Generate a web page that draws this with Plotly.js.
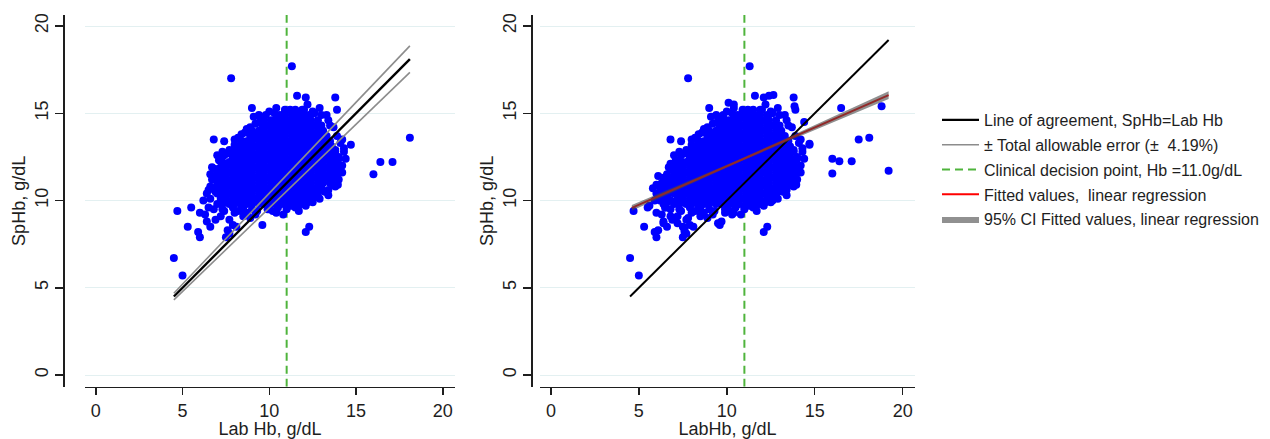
<!DOCTYPE html>
<html>
<head>
<meta charset="utf-8">
<script src="https://cdn.plot.ly/plotly-3.0.1.min.js"></script>
<style>
html, body { margin: 0; padding: 0; background: #ffffff; }
#chart { width: 1270px; height: 439px; }
</style>
</head>
<body>
<div id="chart"></div>
<script>
// ---------------- data ----------------
// Dense core of the scatter, shared by both panels: one row per SpHb level
const coreRowY = [9.8, 10.1, 10.4, 10.7, 11.0, 11.3, 11.6, 11.9, 12.2, 12.5, 12.8, 13.1, 13.4, 13.7, 14.0, 14.3, 14.6, 14.9];
const coreRowX = [
  [7.3, 7.7, 8.0, 8.4, 8.7, 9.0, 9.4, 9.7, 10.1, 10.4, 10.7, 11.1, 11.4, 11.8],
  [7.2, 7.5, 7.9, 8.2, 8.5, 8.9, 9.2, 9.6, 9.9, 10.2, 10.6, 10.9, 11.3, 11.6, 11.9, 12.3],
  [7.0, 7.3, 7.7, 8.0, 8.4, 8.7, 9.0, 9.4, 9.7, 10.1, 10.4, 10.7, 11.1, 11.4, 11.8, 12.1, 12.4, 12.8],
  [6.8, 7.2, 7.5, 7.9, 8.2, 8.5, 8.9, 9.2, 9.6, 9.9, 10.2, 10.6, 10.9, 11.3, 11.6, 11.9, 12.3, 12.6, 13.0],
  [7.0, 7.3, 7.7, 8.0, 8.4, 8.7, 9.0, 9.4, 9.7, 10.1, 10.4, 10.7, 11.1, 11.4, 11.8, 12.1, 12.4, 12.8, 13.1, 13.5],
  [6.8, 7.2, 7.5, 7.9, 8.2, 8.5, 8.9, 9.2, 9.6, 9.9, 10.2, 10.6, 10.9, 11.3, 11.6, 11.9, 12.3, 12.6, 13.0, 13.3, 13.6],
  [7.0, 7.3, 7.7, 8.0, 8.4, 8.7, 9.0, 9.4, 9.7, 10.1, 10.4, 10.7, 11.1, 11.4, 11.8, 12.1, 12.4, 12.8, 13.1, 13.5, 13.8],
  [7.2, 7.5, 7.9, 8.2, 8.5, 8.9, 9.2, 9.6, 9.9, 10.2, 10.6, 10.9, 11.3, 11.6, 11.9, 12.3, 12.6, 13.0, 13.3, 13.6, 14.0],
  [7.3, 7.7, 8.0, 8.4, 8.7, 9.0, 9.4, 9.7, 10.1, 10.4, 10.7, 11.1, 11.4, 11.8, 12.1, 12.4, 12.8, 13.1, 13.5, 13.8],
  [7.9, 8.2, 8.5, 8.9, 9.2, 9.6, 9.9, 10.2, 10.6, 10.9, 11.3, 11.6, 11.9, 12.3, 12.6, 13.0, 13.3, 13.6, 14.0],
  [8.0, 8.4, 8.7, 9.0, 9.4, 9.7, 10.1, 10.4, 10.7, 11.1, 11.4, 11.8, 12.1, 12.4, 12.8, 13.1, 13.5, 13.8],
  [8.2, 8.5, 8.9, 9.2, 9.6, 9.9, 10.2, 10.6, 10.9, 11.3, 11.6, 11.9, 12.3, 12.6, 13.0, 13.3, 13.6],
  [8.4, 8.7, 9.0, 9.4, 9.7, 10.1, 10.4, 10.7, 11.1, 11.4, 11.8, 12.1, 12.4, 12.8, 13.1, 13.5],
  [8.9, 9.2, 9.6, 9.9, 10.2, 10.6, 10.9, 11.3, 11.6, 11.9, 12.3, 12.6, 13.0, 13.3],
  [9.0, 9.4, 9.7, 10.1, 10.4, 10.7, 11.1, 11.4, 11.8, 12.1, 12.4, 12.8, 13.1],
  [9.6, 9.9, 10.2, 10.6, 10.9, 11.3, 11.6, 11.9, 12.3, 12.6, 13.0],
  [9.7, 10.1, 10.4, 10.7, 11.1, 11.4, 11.8, 12.1, 12.4, 12.8],
  [10.6, 10.9, 11.3, 11.6, 11.9, 12.3]
];

// Scattered points around the core, shared by both panels (Lab Hb, SpHb)
const edgeX = [4.7, 5.5, 6.0, 5.3, 5.9, 6.0, 4.5, 5.0,
  6.2, 6.4, 6.6, 6.9, 7.2, 7.7, 7.9, 7.6, 8.1, 8.5, 7.5, 7.7,
  6.5, 6.8, 7.0, 6.4, 6.6, 6.7, 6.9, 7.1, 7.3, 6.8, 7.4, 6.3, 7.3, 8.2, 8.7, 9.0, 9.6, 10.8,
  12.1, 12.3, 11.5, 12.2, 12.5, 13.2, 13.7, 13.95, 13.5, 14.0, 14.2, 14.0, 14.3, 14.7, 14.1,
  13.9, 13.7, 13.4, 13.0, 13.9, 13.8, 12.5, 12.1, 12.2, 11.6, 11.9, 11.3, 10.9, 10.3, 9.8,
  9.5, 9.0, 8.9, 8.6, 8.2, 7.8, 9.1, 8.0, 7.6, 6.9, 7.0, 8.9, 9.3, 10.2, 10.5, 11.3, 11.8,
  12.8, 13.4, 13.8, 13.9, 13.8, 13.9, 8.4, 7.9, 10.0, 11.0,
  7.4, 8.0, 8.5, 9.2, 9.9, 10.4, 11.0, 11.7, 12.1, 12.6,
  9.2, 9.4, 10.0, 10.4, 11.2, 12.6, 12.9, 13.3, 13.5, 8.7, 8.4, 8.0, 7.7, 7.4,
  14.2, 14.3, 14.4, 14.2, 14.0, 13.8, 13.4, 12.9, 6.6, 6.5, 6.6, 6.7, 7.0, 10.9, 11.5, 12.0];
const edgeY = [9.4, 9.6, 9.3, 8.5, 8.2, 7.9, 6.7, 5.7,
  10.0, 8.8, 8.5, 8.9, 9.1, 8.9, 8.6, 8.3, 8.5, 9.1, 7.9, 8.1,
  9.6, 9.5, 9.8, 10.4, 10.8, 11.2, 11.8, 12.3, 12.8, 13.5, 13.4, 9.2, 9.5, 9.4, 9.3, 9.5, 8.6, 9.2,
  8.2, 8.5, 9.6, 9.9, 9.9, 10.5, 10.9, 10.9, 11.4, 11.6, 12.0, 12.4, 12.8, 13.2, 13.3,
  13.7, 14.2, 14.6, 14.9, 15.2, 15.9, 15.1, 15.9, 15.5, 16.0, 15.2, 17.7, 15.1, 15.0, 14.9,
  14.6, 15.3, 14.2, 13.9, 13.6, 17.0, 14.8, 13.2, 12.7, 10.5, 11.4, 9.0, 9.4, 9.4, 9.6, 9.7, 9.8,
  10.2, 10.6, 12.9, 12.3, 11.8, 11.3, 9.7, 9.6, 9.5, 9.6,
  9.4, 9.3, 9.5, 9.2, 9.5, 9.3, 9.5, 9.4, 9.7, 10.3,
  14.4, 14.9, 15.1, 15.3, 15.2, 15.0, 15.3, 14.9, 14.3, 14.1, 13.8, 13.5, 12.9, 12.6,
  13.5, 13.0, 12.4, 11.6, 11.2, 10.8, 10.3, 10.1, 10.1, 10.6, 11.5, 11.9, 12.6, 15.2, 15.2, 15.2];

// Right panel (LabHb): extra measurements not present in the left panel
const extraRightX = [16.0, 16.5, 17.5, 18.8, 19.2,
  6.4, 6.5, 6.4, 6.6, 6.4, 6.7, 6.8, 6.2, 6.0, 6.3, 5.6, 6.1, 6.4, 6.8, 7.2, 7.5,
  7.6, 7.8, 9.5, 9.7, 9.9, 10.3, 10.5, 7.15, 7.35, 6.8, 10.1, 10.4, 12.4, 12.65,
  13.85, 14.4, 14.7, 13.3, 13.7, 12.9, 12.6,
  6.3, 6.5, 6.2, 6.0, 5.9, 6.6, 6.1, 5.8];
const extraRightY = [12.4, 15.3, 13.5, 15.4, 11.7,
  9.8, 10.2, 10.6, 11.0, 11.3, 10.4, 10.0, 10.5, 10.9, 11.0, 9.7, 8.3, 8.7, 9.1, 8.7, 8.5,
  8.2, 9.0, 8.7, 8.8, 9.3, 9.2, 9.7, 12.0, 12.3, 12.1, 15.6, 15.5, 16.0, 16.05,
  15.4, 14.5, 13.25, 10.9, 10.9, 10.5, 10.0,
  10.3, 9.6, 10.8, 10.4, 10.0, 9.9, 11.4, 10.7];
// High Lab Hb outliers of each panel
const onlyLeftX = [16.4, 17.1, 16.0, 18.1];
const onlyLeftY = [12.2, 12.2, 11.5, 13.6];
const onlyRightX = [16.4, 17.1, 16.0, 18.1];
const onlyRightY = [12.25, 12.25, 11.55, 13.6];

// Reference lines
const decisionPoint = 11.0;                 // Clinical decision point, Hb (g/dL)
const agreeLeft = [4.5, 18.1];              // SpHb = Lab Hb, left panel extent
const agreeRight = [4.5, 19.2];             // SpHb = LabHb, right panel extent
const taeX = [4.5, 18.1];                   // ± total allowable error (4.19%)
const taeUpperY = [4.69, 18.86];
const taeLowerY = [4.31, 17.34];
const fitX = [4.6, 19.2];                   // fitted linear regression
const fitY = [9.58, 16.04];
const ciX = [4.6, 10.8, 19.2];              // 95% CI of the fitted values
const ciUpper = [9.74, 12.39, 16.26];
const ciLower = [9.42, 12.25, 15.82];

// Axes
const xRange = [-0.62, 20.7];
const yRange = [-0.67, 20.63];
const tickVals = [0, 5, 10, 15, 20];
const tickText = ['0', '5', '10', '15', '20'];

// ---------------- build ----------------
const coreX = [], coreY = [];
coreRowX.forEach((row, i) => row.forEach(x => { coreX.push(x); coreY.push(coreRowY[i]); }));

const leftX = coreX.concat(edgeX, onlyLeftX);
const leftY = coreY.concat(edgeY, onlyLeftY);
const rightX = coreX.concat(edgeX, extraRightX, onlyRightX);
const rightY = coreY.concat(edgeY, extraRightY, onlyRightY);

const FONT = 'Liberation Sans, Arial, Helvetica, sans-serif';
const INK = '#1e1e1e';
const BLUE = '#0000ff';
const GREEN = '#4fb43c';

const scatterStyle = { mode: 'markers', marker: { color: BLUE, size: 8, line: { width: 0 } }, showlegend: false, hoverinfo: 'x+y' };

const traces = [
  // left panel
  { x: [decisionPoint, decisionPoint], y: yRange, xaxis: 'x', yaxis: 'y', mode: 'lines',
    line: { color: GREEN, width: 2, dash: '8px,5px' }, name: 'Clinical decision point, Hb =11.0g/dL',
    legendrank: 3, legendgroup: 'g3' },
  Object.assign({ x: leftX, y: leftY, xaxis: 'x', yaxis: 'y', name: 'SpHb' }, scatterStyle),
  { x: taeX, y: taeUpperY, xaxis: 'x', yaxis: 'y', mode: 'lines', line: { color: '#8c8c8c', width: 1.6 },
    name: '± Total allowable error (±  4.19%)', legendrank: 2, legendgroup: 'g2' },
  { x: taeX, y: taeLowerY, xaxis: 'x', yaxis: 'y', mode: 'lines', line: { color: '#8c8c8c', width: 1.6 },
    showlegend: false, name: 'lower', legendgroup: 'g2' },
  { x: agreeLeft, y: agreeLeft, xaxis: 'x', yaxis: 'y', mode: 'lines', line: { color: '#000000', width: 2.4 },
    name: 'Line of agreement, SpHb=Lab Hb', legendrank: 1, legendgroup: 'g1' },
  // right panel
  { x: [decisionPoint, decisionPoint], y: yRange, xaxis: 'x2', yaxis: 'y2', mode: 'lines',
    line: { color: GREEN, width: 2, dash: '8px,5px' }, showlegend: false, name: 'decision', legendgroup: 'g3' },
  Object.assign({ x: rightX, y: rightY, xaxis: 'x2', yaxis: 'y2', name: 'SpHb' }, scatterStyle),
  { x: agreeRight, y: agreeRight, xaxis: 'x2', yaxis: 'y2', mode: 'lines', line: { color: '#000000', width: 2 },
    showlegend: false, name: 'agreement', legendgroup: 'g1' },
  { x: fitX, y: fitY, xaxis: 'x2', yaxis: 'y2', mode: 'lines', line: { color: '#ff0000', width: 2 },
    name: 'Fitted values,  linear regression', legendrank: 4, legendgroup: 'g4' },
  { x: ciX.concat(ciX.slice().reverse()), y: ciUpper.concat(ciLower.slice().reverse()), xaxis: 'x2', yaxis: 'y2',
    mode: 'lines', fill: 'toself', fillcolor: 'rgba(70,70,70,0.6)', line: { width: 0, color: 'rgba(70,70,70,0.6)' },
    name: '95% CI Fitted values, linear regression', legendrank: 5, legendgroup: 'g5' }
];

function xAxis(domain, anchor, title) {
  return {
    domain: domain, anchor: anchor, range: xRange, tickvals: tickVals, ticktext: tickText,
    ticks: 'outside', ticklen: 7, tickwidth: 1.5, tickcolor: INK,
    showline: true, linecolor: INK, linewidth: 1.5, showgrid: false, zeroline: false,
    tickfont: { family: FONT, size: 18, color: INK },
    title: { text: title, font: { family: FONT, size: 18, color: INK }, standoff: 2 }
  };
}
function yAxis(position) {
  return {
    domain: [0.1191, 0.9658], anchor: 'free', position: position, range: yRange,
    tickvals: tickVals, ticktext: tickText, tickangle: -90,
    ticks: 'outside', ticklen: 8, tickwidth: 1.5, tickcolor: INK,
    showline: true, linecolor: INK, linewidth: 1.5,
    showgrid: true, gridcolor: '#e3f0f1', gridwidth: 1, zeroline: false,
    tickfont: { family: FONT, size: 18, color: INK },
    title: { text: 'SpHb, g/dL', font: { family: FONT, size: 18, color: INK }, standoff: 0 }
  };
}

const layout = {
  width: 1270, height: 439,
  margin: { l: 0, r: 0, t: 0, b: 0 },
  paper_bgcolor: '#ffffff', plot_bgcolor: '#ffffff',
  font: { family: FONT, color: INK },
  xaxis: xAxis([85 / 1270, 455 / 1270], 'y', 'Lab Hb, g/dL'),
  yaxis: yAxis(63.3 / 1270),
  xaxis2: xAxis([540 / 1270, 915 / 1270], 'y2', 'LabHb, g/dL'),
  yaxis2: yAxis(531 / 1270),
  showlegend: true,
  legend: {
    x: 937 / 1270, y: (439 - 103) / 439, xanchor: 'left', yanchor: 'top',
    font: { family: FONT, size: 16, color: INK }, bgcolor: 'rgba(0,0,0,0)',
    itemwidth: 37, traceorder: 'grouped', tracegroupgap: 1,
    itemclick: false, itemdoubleclick: false
  }
};

Plotly.newPlot('chart', traces, layout, { displayModeBar: false, staticPlot: true });
</script>
</body>
</html>
